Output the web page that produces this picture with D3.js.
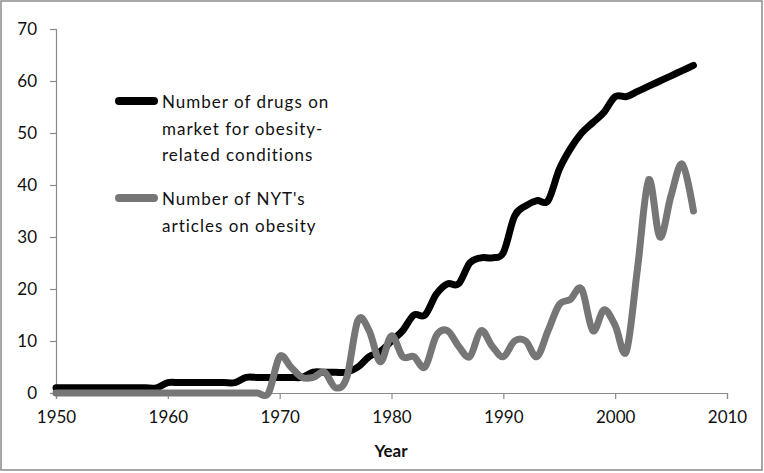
<!DOCTYPE html>
<html><head><meta charset="utf-8">
<script src="https://cdn.jsdelivr.net/npm/d3@7"></script>
<style>html,body{margin:0;padding:0;background:#fff;}svg{display:block;}</style>
</head><body>
<svg id="chart" width="764" height="473"></svg>
<script>
const years = d3.range(1950, 2008);
const drugs = [1,1,1,1,1,1,1,1,1,1, 2,2,2,2,2,2,2, 3,3,3,3,3,3, 4,4,4,4,
  5,7,8,10,12,15,15,19,21,21,25,26,26,27,34,36,37,37,43,47,50,52,54,57,57,58,59,60,61,62,63];
const nyt = [0,0,0,0,0,0,0,0,0,0,0,0,0,0,0,0,0,0,0,0,
  7,5,3,3,4,1,3,14,12,6,11,7,7,5,11,12,9,7,12,9,7,10,10,7,12,17,18,20,12,16,13,8,24,41,30,38,44,35];
const yTicks = [0,10,20,30,40,50,60,70];
const xTicks = [1950,1960,1970,1980,1990,2000,2010];
const seriesNames = [["Number of drugs on","market for obesity-","related conditions"],["Number of NYT's","articles on obesity"]];
const colors = ["#000000","#767676"];

const svg = d3.select("#chart");
const font = "Lato, 'Open Sans', sans-serif";
svg.append("rect").attr("x",1).attr("y",1).attr("width",761).attr("height",469)
  .attr("fill","#fff").attr("stroke","#8a8a8a").attr("stroke-width",1.5);

const x = d3.scaleLinear().domain([1950,2010]).range([56,727]);
const y = d3.scaleLinear().domain([0,70]).range([393,29]);

const yAxis = svg.append("g").attr("transform","translate(56,0)")
  .call(d3.axisLeft(y).tickValues(yTicks).tickSize(6).tickPadding(13));
const xAxis = svg.append("g").attr("transform","translate(0,393)")
  .call(d3.axisBottom(x).tickValues(xTicks).tickFormat(d3.format("d")).tickSize(6).tickPadding(12));
[yAxis,xAxis].forEach(a=>{
  a.select(".domain").attr("stroke","#8a8a8a").attr("stroke-width",1.2);
  a.selectAll(".tick line").attr("stroke","#8a8a8a").attr("stroke-width",1.2);
  a.selectAll("text").attr("font-family",font).attr("font-size",17).attr("fill","#111");
});

svg.append("text").attr("x",391).attr("y",457).attr("text-anchor","middle")
  .attr("font-family",font).attr("font-size",17).attr("font-weight","bold").attr("fill","#111").text("Year");

const line = d3.line().x((d,i)=>x(years[i])).y(d=>y(d)).curve(d3.curveCardinal.tension(0));
[drugs, nyt].forEach((s,k)=>{
  svg.append("path").datum(s).attr("d",line).attr("fill","none").attr("stroke",colors[k])
    .attr("stroke-width",7).attr("stroke-linecap","round").attr("stroke-linejoin","round");
});

// legend
const legY = [101, 198];
seriesNames.forEach((lines,k)=>{
  svg.append("line").attr("x1",119).attr("x2",154).attr("y1",legY[k]).attr("y2",legY[k])
    .attr("stroke",colors[k]).attr("stroke-width",8).attr("stroke-linecap","round");
  lines.forEach((t,j)=>{
    svg.append("text").attr("x",162).attr("y",legY[k]+7+j*26.5)
      .attr("font-family",font).attr("font-size",17).attr("letter-spacing","1px")
      .attr("fill","#111").text(t);
  });
});
</script>
</body></html>
